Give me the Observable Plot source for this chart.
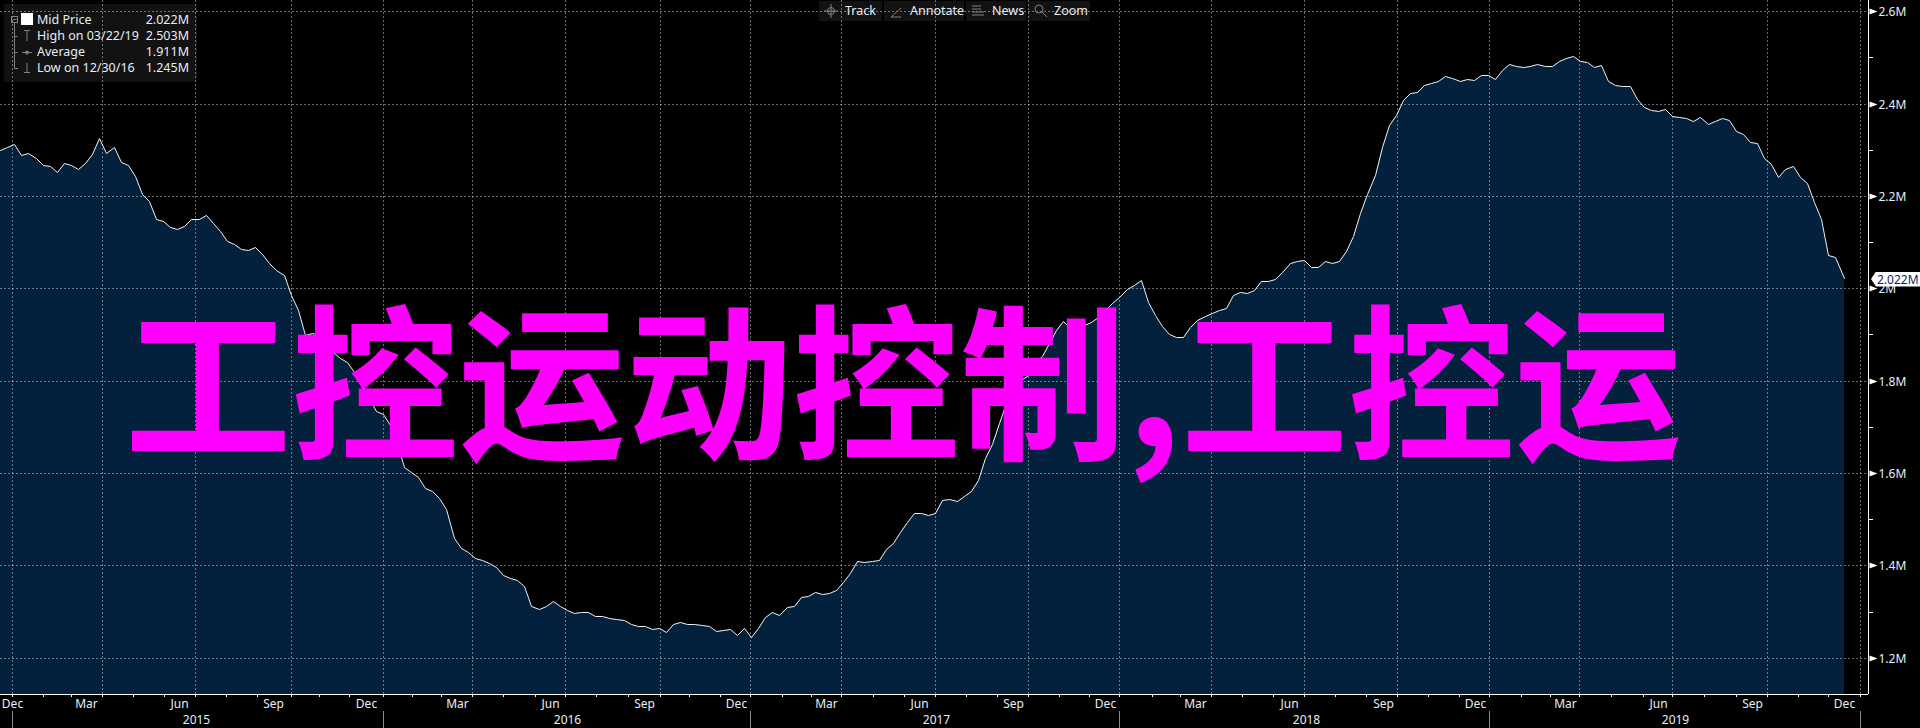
<!DOCTYPE html>
<html>
<head>
<meta charset="utf-8">
<script src="https://cdn.jsdelivr.net/npm/d3@7"></script>
<script src="https://cdn.jsdelivr.net/npm/@observablehq/plot@0.6"></script>
<style>
  html,body{margin:0;padding:0;background:#000;overflow:hidden}
  #chart{position:relative;width:1920px;height:728px;font-family:"Noto Sans",sans-serif;color:#e6eef7}
  #chart svg.plot{display:block}
  .legend{position:absolute;left:4px;top:4px;width:193px;height:78px;background:rgba(255,255,255,.07);border-radius:3px;font-size:12.5px;line-height:16px}
  .legend .row{position:absolute;left:33px;right:8px;display:flex;justify-content:space-between;white-space:nowrap}
  .legend svg{position:absolute;left:0;top:0}
  .tool{position:absolute;top:1px;height:20px;background:rgba(255,255,255,.07);font-size:12.5px;line-height:20px;white-space:nowrap}
  .tool span{position:absolute;top:0}
  .tool svg{position:absolute;top:3px}
  .flag{position:absolute;left:1871px;width:49px;height:15px;background:#fff;color:#0a1f5c;font-size:12px;line-height:15px;text-indent:6px;clip-path:polygon(0 50%,5px 0,100% 0,100% 100%,5px 100%)}
</style>
</head>
<body>
<div id="chart"></div>
<script>
// Weekly mid price, in millions
const firstFriday = "2014-12-19";
const lastQuote = "2019-12-15";
const midPrice = [
  2.300,2.306,2.313,2.289,2.294,2.283,2.267,2.265,2.252,2.272,
  2.267,2.258,2.272,2.290,2.326,2.294,2.307,2.274,2.267,2.244,
  2.204,2.189,2.151,2.146,2.132,2.128,2.135,2.151,2.150,2.159,
  2.141,2.123,2.102,2.096,2.084,2.083,2.089,2.074,2.054,2.040,
  2.029,1.986,1.953,1.899,1.903,1.899,1.877,1.863,1.849,1.840,
  1.818,1.798,1.762,1.735,1.728,1.704,1.664,1.614,1.603,1.591,
  1.567,1.562,1.545,1.521,1.459,1.437,1.428,1.415,1.412,1.405,
  1.396,1.379,1.373,1.369,1.356,1.312,1.306,1.312,1.322,1.313,
  1.304,1.296,1.299,1.299,1.291,1.291,1.286,1.284,1.282,1.273,
  1.269,1.269,1.263,1.264,1.255,1.273,1.278,1.274,1.273,1.271,
  1.268,1.257,1.259,1.263,1.250,1.264,1.245,1.264,1.289,1.298,
  1.293,1.309,1.311,1.331,1.333,1.343,1.338,1.341,1.347,1.365,
  1.383,1.410,1.407,1.409,1.412,1.435,1.448,1.472,1.493,1.514,
  1.514,1.509,1.513,1.542,1.544,1.540,1.550,1.562,1.585,1.632,
  1.663,1.709,1.752,1.781,1.802,1.809,1.839,1.853,1.881,1.909,
  1.929,1.915,1.917,1.920,1.927,1.938,1.954,1.969,1.982,1.998,
  2.007,2.018,1.970,1.943,1.918,1.902,1.894,1.895,1.917,1.931,
  1.940,1.946,1.954,1.958,1.985,1.992,1.989,1.996,2.015,2.015,
  2.021,2.035,2.055,2.058,2.061,2.046,2.047,2.059,2.054,2.059,
  2.080,2.113,2.163,2.204,2.246,2.307,2.354,2.375,2.408,2.423,
  2.425,2.441,2.444,2.448,2.459,2.455,2.449,2.454,2.452,2.462,
  2.462,2.453,2.473,2.486,2.482,2.479,2.482,2.486,2.482,2.482,
  2.493,2.498,2.503,2.493,2.491,2.479,2.483,2.449,2.441,2.437,
  2.437,2.409,2.393,2.385,2.383,2.389,2.373,2.370,2.368,2.363,
  2.370,2.355,2.363,2.368,2.364,2.341,2.333,2.317,2.315,2.283,
  2.269,2.240,2.258,2.264,2.241,2.228,2.187,2.150,2.071,2.067,2.022
];
const yMajor = [1.2,1.4,1.6,1.8,2.0,2.2,2.4,2.6];
const yMinor = [1.3,1.5,1.7,1.9,2.1,2.3,2.5];
const quarterGrid = ["2014-12-31","2015-03-30","2015-06-30","2015-10-02","2016-01-01","2016-03-29","2016-06-29","2016-10-01","2016-12-29","2017-03-29","2017-06-30","2017-09-30","2017-12-29","2018-03-29","2018-06-29","2018-09-29","2018-12-29","2019-03-28","2019-06-28","2019-09-30","2019-12-31"];
const monthLabels = ["2014-12-31","2015-03-14","2015-06-14","2015-09-15","2015-12-15","2016-03-14","2016-06-14","2016-09-15","2016-12-15","2017-03-14","2017-06-14","2017-09-15","2017-12-15","2018-03-14","2018-06-14","2018-09-15","2018-12-15","2019-03-14","2019-06-14","2019-09-15","2019-12-15"];
const yearLabels = ["2015-07-01","2016-07-01","2017-07-01","2018-07-01","2019-07-01"];
const yearBounds = ["2014-12-31","2016-01-01","2016-12-29","2017-12-29","2018-12-29","2019-12-31"];
const legendRows = [["Mid Price","2.022M"],["High on 03/22/19","2.503M"],["Average","1.911M"],["Low on 12/30/16","1.245M"]];
const tools = ["Track","Annotate","News","Zoom"];
const watermark = "工控运动控制,工控运";
const lastPrice = 2.022;

const day = s => new Date(s + "T00:00:00Z");
const dates = midPrice.map((_, i) => i === midPrice.length - 1 ? day(lastQuote) : d3.utcDay.offset(day(firstFriday), 7 * i));
const series = midPrice.map((v, i) => ({date: dates[i], value: v}));
const xDomain = [new Date("2014-12-18T20:24:00Z"), new Date("2020-01-07T14:00:00Z")];
const yDomain = [1.12144, 2.62425];
const otherMonths = d3.utcMonth.range(day("2015-01-01"), day("2020-01-01"))
  .filter(m => (m.getUTCMonth() + 1) % 3 !== 0)
  .map(m => d3.utcDay.offset(d3.utcMonth.offset(m, 1), -2));
const gridDates = quarterGrid.map(day);
const ink = "#e6eef7";
const rightTriangle = {draw(c){c.moveTo(0,-3);c.lineTo(8,0);c.lineTo(0,3);c.closePath();}};

const plot = Plot.plot({
  width: 1920, height: 728,
  marginLeft: 0, marginRight: 52, marginTop: 0, marginBottom: 34,
  style: {background: "#000", fontFamily: '"Noto Sans",sans-serif'},
  x: {type: "utc", domain: xDomain, round: true},
  y: {domain: yDomain, round: true},
  marks: [
    Plot.areaY(series, {x: "date", y1: yDomain[0], y2: "value", fill: "#03203c"}),
    Plot.ruleY(yMajor, {stroke: "#fff", strokeOpacity: .42, strokeDasharray: "2,2"}),
    Plot.ruleX(gridDates, {stroke: "#fff", strokeOpacity: .42, strokeDasharray: "2,2"}),
    Plot.lineY(series, {x: "date", y: "value", stroke: "#f0f2f4", strokeWidth: 1}),
    Plot.ruleY([yDomain[0]], {stroke: "#fff", strokeWidth: 1}),
    Plot.ruleX([xDomain[1]], {stroke: "#fff", strokeWidth: 1, y1: yDomain[0], y2: yDomain[1]}),
    Plot.axisX([...otherMonths, ...gridDates], {anchor: "bottom", tickSize: 3, tickFormat: () => "", color: "#fff", label: null}),
    Plot.axisX(monthLabels.map(day), {anchor: "bottom", tickSize: 0, tickPadding: 5, tickFormat: d3.utcFormat("%b"), fontSize: 12, color: ink, label: null}),
    Plot.axisX(yearLabels.map(day), {anchor: "bottom", tickSize: 0, tickPadding: 21, tickFormat: d3.utcFormat("%Y"), fontSize: 12, color: ink, label: null}),
    Plot.ruleX(yearBounds.map(day), {y1: 1.0847, y2: 1.0479, stroke: "#8a8a8a"}),
    Plot.axisY(yMinor, {anchor: "right", tickSize: 4, tickFormat: () => "", color: "#fff", label: null}),
    Plot.dot(yMajor, {y: d => d, frameAnchor: "right", symbol: rightTriangle, fill: "#fff", stroke: "none", dx: 1}),
    Plot.axisY(yMajor, {anchor: "right", tickSize: 0, tickPadding: 10, dy: 1, tickFormat: d => `${d}M`, fontSize: 12, color: ink, label: null}),
    Plot.text([watermark], {text: d => d, frameAnchor: "top-left", textAnchor: "start", lineAnchor: "middle", dx: 124, dy: 393, fontSize: 167, fontWeight: 700, fontFamily: '"Noto Sans CJK SC",sans-serif', fill: "#ff00ff"})
  ]
});
const root = document.getElementById("chart");
root.appendChild(plot);

// Legend panel
const legend = document.createElement("div");
legend.className = "legend";
legend.innerHTML = `<svg width="30" height="78" fill="none" stroke="#808080">
  <rect x="7.5" y="12.5" width="6" height="6"/><path d="M8.5 15.5h4M10.5 18.5V64.5H14M10.5 32.5h3M10.5 48.5h3"/>
  <rect x="17" y="9" width="12" height="12" fill="#fff" stroke="none"/>
  <path d="M20 26.5h6M23 26.5V37M18 48.5h10M23 59V68M20 68.5h6"/><circle cx="23" cy="48.5" r="1.5" fill="#808080"/></svg>`;
legendRows.forEach((r, i) => {
  const row = document.createElement("div");
  row.className = "row";
  row.style.top = (8 + 16 * i) + "px";
  r.forEach(t => { const s = document.createElement("span"); s.textContent = t; row.appendChild(s); });
  legend.appendChild(row);
});
root.appendChild(legend);

// Toolbar
const toolBoxes = [[819,63,26,5],[884,80,26,6],[966,60,26,5],[1028,62,26,6]];
const toolIcons = [
  '<circle cx="7" cy="7" r="3.5"/><path d="M7 0v14M0 7h14"/>',
  '<path d="M1 13L11 4M1 13h10"/>',
  '<path d="M1 2h9M1 5h9M1 8h12M1 11h12"/>',
  '<circle cx="5" cy="5" r="4"/><path d="M8 8l5 5"/>'
];
tools.forEach((t, i) => {
  const [left, w, textLeft, iconLeft] = toolBoxes[i];
  const b = document.createElement("div");
  b.className = "tool";
  b.style.left = left + "px";
  b.style.width = w + "px";
  b.innerHTML = `<svg width="14" height="14" fill="none" stroke="#808080" style="left:${iconLeft}px">${toolIcons[i]}</svg><span style="left:${textLeft}px">${t}</span>`;
  root.appendChild(b);
});

// Last price flag, placed with the chart's own y scale
const flag = document.createElement("div");
flag.className = "flag";
flag.textContent = lastPrice.toFixed(3) + "M";
flag.style.top = (plot.scale("y").apply(lastPrice) - 6.5) + "px";
root.appendChild(flag);
</script>
</body>
</html>
